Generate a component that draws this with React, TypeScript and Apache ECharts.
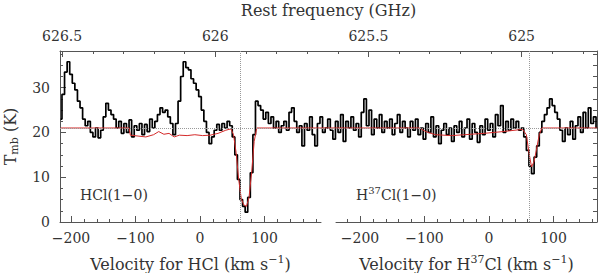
import React, { useEffect, useRef } from 'react';
import * as echarts from 'echarts';

// Spectrum channel grid (HCl velocity, km/s)
const VEL_START = -216;
const VEL_STEP = 4;

// Observed main-beam temperature (K), one value per channel
const tmb = [
  23.0, 28.5, 33.5, 35.8, 33.0, 31.0, 29.5, 27.0, 25.5, 23.0,
  21.5, 22.5, 20.0, 19.0, 21.0, 18.8, 20.5, 23.5, 26.5, 25.0,
  24.0, 23.0, 21.0, 22.5, 19.8, 22.0, 20.0, 22.8, 19.0, 21.5,
  20.5, 22.0, 19.5, 21.8, 20.2, 23.0, 21.0, 22.5, 24.0, 25.5,
  24.5, 25.0, 23.5, 22.0, 19.5, 22.0, 27.0, 32.5, 35.8, 34.5,
  34.0, 32.0, 31.0, 29.5, 28.0, 25.0, 22.5, 20.0, 17.5, 19.0,
  20.5, 21.8, 20.5, 22.0, 21.0, 22.5, 21.5, 19.0, 15.0, 9.5,
  5.0, 3.5, 2.2, 5.5, 11.0, 19.5, 27.0, 26.0, 25.0, 23.0,
  24.5, 22.0, 23.5, 21.0, 22.5, 20.0, 21.5, 22.5, 20.5, 24.5,
  25.5, 22.5, 20.0, 21.5, 17.0, 22.0, 20.5, 23.5, 19.5, 17.0,
  22.0, 23.5, 20.0, 21.0, 23.0, 20.5, 18.5, 22.5, 20.0, 24.0,
  18.0, 22.5, 21.0, 23.5, 20.5, 22.0, 19.0, 24.5, 27.5, 21.5,
  25.0, 19.5, 23.0, 21.0, 24.0, 20.0, 22.5, 21.0, 23.0, 19.5,
  22.0, 24.0, 20.0, 22.5, 21.0, 19.0, 22.5, 20.5, 23.0, 19.5,
  21.0, 18.5, 22.0, 20.0, 23.5, 19.0, 21.5, 17.5, 20.5, 22.0,
  19.5, 21.0, 18.0, 21.5, 20.0, 22.5, 19.0, 21.0, 23.0, 18.5,
  22.0, 20.0, 17.8, 21.5, 19.5, 23.0, 20.5, 22.0, 19.0, 24.0,
  21.5, 26.0, 20.0, 22.5, 20.5, 23.0, 21.0, 22.5, 20.5, 21.0,
  19.0, 16.0, 12.5, 10.8, 14.5, 17.0, 20.0, 22.5, 24.0, 25.5,
  27.5, 26.0, 24.5, 23.0, 20.5, 18.0, 21.0, 19.5, 22.5, 18.5,
  21.5, 23.5, 20.0, 24.5, 21.0, 25.5, 22.0, 23.5, 21.0,
];

// Model fit (red)
const fitVel = [
  -216, -110, -108, -96, -84, -72, -64, -56, -48, -40,
  -32, -20, -8, 4, 16, 28, 40, 48, 52, 56,
  60, 64, 68, 72, 76, 80, 84, 88,
  340, 350, 365, 390, 410, 440, 470, 500,
  506, 510, 514, 518, 522, 526, 530, 616,
];
const fitT = [
  21.0, 21.0, 19.4, 19.2, 19.0, 19.5, 20.2, 19.6, 19.8, 19.0,
  19.4, 19.3, 19.5, 19.3, 19.4, 19.8, 20.5, 20.8, 19.5, 15.5,
  9.5, 5.2, 3.8, 3.5, 5.5, 11.0, 18.0, 21.0,
  21.0, 20.2, 19.5, 19.3, 19.5, 19.8, 20.2, 20.7,
  19.5, 15.5, 12.3, 13.5, 16.5, 19.5, 21.0, 21.0,
];

// Reference lines
const markVel = [62, 510];
const baselineT = 21;

// Axis ticks
const freqLabels = [625, 625.5, 626, 626.5];
const freqMinor = [624.8, 624.9, 625.1, 625.2, 625.3, 625.4, 625.6, 625.7, 625.8, 625.9, 626.1, 626.2, 626.3, 626.4];
const velLabels = [-200, -100, 0, 100];
const velMinorHCl = [-200, -180, -160, -140, -120, -100, -80, -60, -40, -20, 0, 20, 40, 60, 80, 100, 120, 140, 160, 180];
const velMinorH37 = [-220, -200, -180, -160, -140, -120, -100, -80, -60, -40, -20, 0, 20, 40, 60, 80, 100, 120, 140, 160];
const tLabels = [0, 10, 20, 30];
const tMinor = [2.5, 5, 7.5, 12.5, 15, 17.5, 22.5, 25, 27.5, 32.5, 35, 37.5];
const tAll = [0, 2.5, 5, 7.5, 10, 12.5, 15, 17.5, 20, 22.5, 25, 27.5, 30, 32.5, 35, 37.5];

const FONT = "'DejaVu Serif', serif";
const TEXT = '#333';
const LINE = '#555';
const fmt = (v: number) => String(v).replace('-', '\u2212');

const supRich = {
  sup: { fontSize: 11, lineHeight: 10, verticalAlign: 'top', fontFamily: FONT, color: TEXT },
};

function buildOption() {
  const spectrum = tmb.map((t, i) => [VEL_START + i * VEL_STEP, t]);
  const fit = fitVel.map((v, i) => [v, fitT[i]]);
  const lineStyle = { color: LINE, width: 1 };
  const labelStyle = { color: TEXT, fontFamily: FONT, fontSize: 14 };
  const nameStyle = { color: TEXT, fontFamily: FONT, fontSize: 16, lineHeight: 20, rich: supRich };

  const velAxis = (grid: number, min: number, max: number, name: string, minor: number[]) => [
    {
      type: 'value', gridIndex: grid, position: 'bottom', min, max,
      axisLine: { show: true, onZero: false, lineStyle },
      axisTick: { show: true, inside: true, length: 6, lineStyle, customValues: velLabels },
      axisLabel: { show: true, margin: 9, customValues: velLabels, formatter: fmt, ...labelStyle },
      splitLine: { show: false },
      name, nameLocation: 'middle', nameGap: 32, nameTextStyle: nameStyle,
    },
    {
      type: 'value', gridIndex: grid, position: 'bottom', min, max,
      axisLine: { show: false, onZero: false },
      axisTick: { show: true, inside: true, length: 3, lineStyle, customValues: minor },
      axisLabel: { show: false },
      splitLine: { show: false },
    },
  ];

  const gridBase = { top: 51, bottom: 51, outerBoundsMode: 'none', containLabel: false };

  return {
    animation: false,
    backgroundColor: '#fff',
    grid: [
      { ...gridBase, left: 60, right: 3 },
      { ...gridBase, left: 60, width: 261 },
      { ...gridBase, left: 336, right: 3 },
    ],
    xAxis: [
      { type: 'value', gridIndex: 0, position: 'bottom', min: -217.05, max: 615.5, show: false, axisLine: { onZero: false } },
      {
        type: 'value', gridIndex: 0, position: 'top', min: 624.754, max: 626.507, inverse: true,
        axisLine: { show: true, onZero: false, lineStyle },
        axisTick: { show: true, inside: true, length: 6, lineStyle, customValues: freqLabels },
        axisLabel: { show: true, margin: 8, customValues: freqLabels, formatter: fmt, ...labelStyle },
        splitLine: { show: false },
        name: 'Rest frequency (GHz)', nameLocation: 'middle', nameGap: 33,
        nameTextStyle: { color: TEXT, fontFamily: FONT, fontSize: 16 },
      },
      {
        type: 'value', gridIndex: 0, position: 'top', min: 624.754, max: 626.507, inverse: true,
        axisLine: { show: false, onZero: false },
        axisTick: { show: true, inside: true, length: 3, lineStyle, customValues: freqMinor },
        axisLabel: { show: false },
        splitLine: { show: false },
      },
      ...velAxis(1, -217.05, 187.6, 'Velocity for HCl (km s{sup|\u22121})', velMinorHCl),
      ...velAxis(2, -237.2, 167.4, 'Velocity for H{sup|37}Cl (km s{sup|\u22121})', velMinorH37),
    ],
    yAxis: [
      {
        type: 'value', gridIndex: 0, position: 'left', min: 0, max: 38.2,
        axisLine: { show: true, onZero: false, lineStyle },
        axisTick: { show: true, inside: true, length: 6, lineStyle, customValues: tLabels },
        axisLabel: { show: true, margin: 10, customValues: tLabels, ...labelStyle },
        splitLine: { show: false },
        name: 'T{sub|mb} (K)', nameLocation: 'middle', nameGap: 40,
        nameTextStyle: {
          color: TEXT, fontFamily: FONT, fontSize: 16, lineHeight: 20,
          rich: { sub: { fontSize: 11, lineHeight: 10, verticalAlign: 'bottom', fontFamily: FONT, color: TEXT } },
        },
      },
      {
        type: 'value', gridIndex: 0, position: 'left', min: 0, max: 38.2,
        axisLine: { show: false, onZero: false },
        axisTick: { show: true, inside: true, length: 3, lineStyle, customValues: tMinor },
        axisLabel: { show: false },
        splitLine: { show: false },
      },
      {
        type: 'value', gridIndex: 0, position: 'right', min: 0, max: 38.2,
        axisLine: { show: true, onZero: false, lineStyle },
        axisTick: { show: true, inside: true, length: 4, lineStyle, customValues: tAll },
        axisLabel: { show: false },
        splitLine: { show: false },
      },
      { type: 'value', gridIndex: 1, min: 0, max: 1, show: false, axisLine: { onZero: false } },
      { type: 'value', gridIndex: 2, min: 0, max: 1, show: false, axisLine: { onZero: false } },
    ],
    series: [
      {
        type: 'line', xAxisIndex: 0, yAxisIndex: 0, data: [], z: 1, silent: true,
        markLine: {
          silent: true, symbol: 'none', label: { show: false },
          lineStyle: { color: '#999', type: 'dotted', width: 1 },
          data: [...markVel.map((v) => ({ xAxis: v })), { yAxis: baselineT }],
        },
      },
      {
        name: 'Spectrum', type: 'line', xAxisIndex: 0, yAxisIndex: 0, data: spectrum,
        step: 'middle', showSymbol: false, symbol: 'none', z: 3,
        lineStyle: { color: '#000', width: 1.7 },
      },
      {
        name: 'Fit', type: 'line', xAxisIndex: 0, yAxisIndex: 0, data: fit,
        showSymbol: false, symbol: 'none', z: 4,
        lineStyle: { color: '#d42a2a', width: 1 },
      },
    ],
    graphic: [
      {
        type: 'text', left: 80, top: 188,
        style: { text: 'HCl(1\u22120)', fill: TEXT, font: `14px ${FONT}` },
      },
      {
        type: 'text', left: 356, top: 185,
        style: {
          text: 'H{sup|37}Cl(1\u22120)', fill: TEXT, fontFamily: FONT, fontSize: 14, lineHeight: 20,
          rich: { sup: { fontSize: 10, lineHeight: 10, verticalAlign: 'top', fontFamily: FONT, fill: TEXT } },
        },
      },
    ],
  };
}

export default function App() {
  const ref = useRef<HTMLDivElement>(null);
  useEffect(() => {
    document.body.style.margin = '0';
    const chart = echarts.init(ref.current!, null, { renderer: 'svg' });
    chart.setOption(buildOption() as any);
    return () => chart.dispose();
  }, []);
  return (
    <div
      ref={ref}
      style={{ position: 'fixed', left: 0, top: 0, width: 600, height: 273, background: '#fff' }}
    />
  );
}
